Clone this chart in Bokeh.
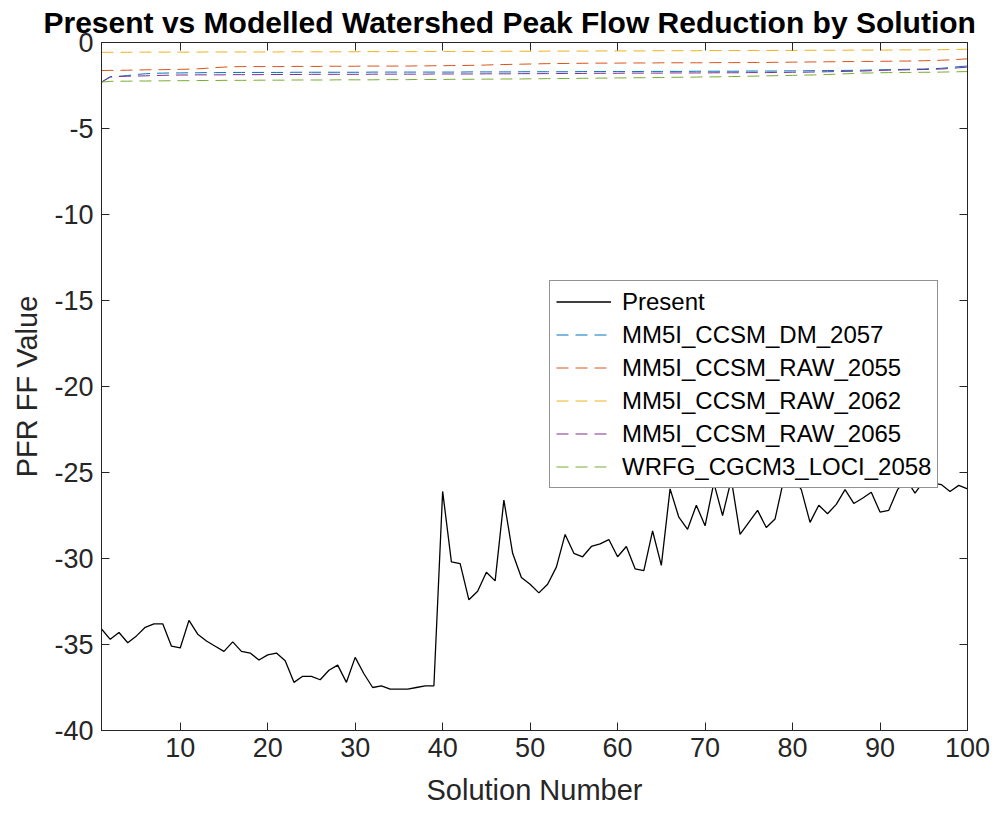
from bokeh.plotting import figure
from bokeh.models import Range1d, LinearAxis, FixedTicker, Legend, LegendItem
from bokeh.embed import file_html
from bokeh.resources import INLINE

solution = list(range(1, 101))

present = [
    -34.1, -34.7, -34.3, -34.9, -34.5, -34.0, -33.8, -33.8, -35.1, -35.2,
    -33.6, -34.4, -34.8, -35.1, -35.4, -34.85, -35.4, -35.5, -35.9, -35.6,
    -35.5, -35.95, -37.2, -36.85, -36.85, -37.05, -36.5, -36.2, -37.2, -35.75,
    -36.7, -37.5, -37.4, -37.6, -37.6, -37.6, -37.5, -37.4, -37.4, -26.1,
    -30.2, -30.3, -32.4, -31.9, -30.8, -31.3, -26.6, -29.7, -31.1, -31.5,
    -32.0, -31.5, -30.5, -28.6, -29.7, -29.9, -29.3, -29.15, -28.9, -29.9,
    -29.3, -30.6, -30.7, -28.4, -30.4, -25.95, -27.6, -28.3, -26.9, -28.1,
    -25.6, -27.5, -25.4, -28.6, -27.9, -27.2, -28.2, -27.7, -25.4, -25.2,
    -26.0, -27.9, -26.9, -27.4, -26.85, -26.0, -26.8, -26.5, -26.15, -27.3,
    -27.2, -26.0, -25.4, -26.2, -25.5, -25.6, -25.7, -26.1, -25.75, -25.95,
]

dm_2057 = [
    -2.30, -2.02, -1.97, -1.92, -1.86, -1.82, -1.79, -1.78, -1.77, -1.77,
    -1.76, -1.76, -1.75, -1.75, -1.75, -1.74, -1.74, -1.74, -1.74, -1.74,
    -1.74, -1.74, -1.73, -1.73, -1.73, -1.73, -1.73, -1.73, -1.73, -1.73,
    -1.73, -1.72, -1.72, -1.72, -1.72, -1.72, -1.72, -1.72, -1.72, -1.72,
    -1.72, -1.72, -1.71, -1.71, -1.71, -1.71, -1.71, -1.71, -1.70, -1.70,
    -1.70, -1.70, -1.70, -1.70, -1.70, -1.69, -1.69, -1.69, -1.69, -1.69,
    -1.69, -1.69, -1.68, -1.68, -1.68, -1.68, -1.68, -1.68, -1.67, -1.67,
    -1.67, -1.67, -1.67, -1.67, -1.66, -1.66, -1.66, -1.66, -1.65, -1.65,
    -1.65, -1.64, -1.64, -1.63, -1.63, -1.62, -1.62, -1.61, -1.60, -1.59,
    -1.58, -1.57, -1.56, -1.55, -1.54, -1.52, -1.50, -1.46, -1.40, -1.37,
]

raw_2055 = [
    -1.63, -1.62, -1.62, -1.61, -1.60, -1.59, -1.58, -1.58, -1.57, -1.56,
    -1.55, -1.53, -1.50, -1.46, -1.43, -1.41, -1.40, -1.40, -1.40, -1.40,
    -1.40, -1.40, -1.39, -1.39, -1.39, -1.39, -1.38, -1.38, -1.38, -1.38,
    -1.37, -1.37, -1.37, -1.37, -1.37, -1.37, -1.36, -1.36, -1.35, -1.35,
    -1.34, -1.34, -1.33, -1.32, -1.31, -1.29, -1.28, -1.27, -1.26, -1.25,
    -1.24, -1.23, -1.22, -1.22, -1.21, -1.21, -1.20, -1.20, -1.20, -1.20,
    -1.19, -1.19, -1.19, -1.19, -1.18, -1.18, -1.18, -1.18, -1.18, -1.18,
    -1.17, -1.17, -1.17, -1.17, -1.16, -1.16, -1.16, -1.15, -1.15, -1.14,
    -1.14, -1.13, -1.13, -1.12, -1.12, -1.11, -1.11, -1.10, -1.10, -1.09,
    -1.09, -1.08, -1.08, -1.07, -1.06, -1.05, -1.03, -1.01, -0.98, -0.95,
]

raw_2062 = [
    -0.57, -0.57, -0.57, -0.57, -0.56, -0.56, -0.56, -0.56, -0.56, -0.56,
    -0.56, -0.56, -0.55, -0.55, -0.55, -0.55, -0.55, -0.55, -0.55, -0.55,
    -0.55, -0.54, -0.54, -0.54, -0.54, -0.54, -0.54, -0.54, -0.54, -0.54,
    -0.53, -0.53, -0.53, -0.53, -0.53, -0.53, -0.53, -0.52, -0.52, -0.52,
    -0.52, -0.52, -0.52, -0.52, -0.52, -0.51, -0.51, -0.51, -0.51, -0.51,
    -0.51, -0.50, -0.50, -0.50, -0.50, -0.50, -0.50, -0.49, -0.49, -0.49,
    -0.49, -0.49, -0.49, -0.48, -0.48, -0.48, -0.48, -0.48, -0.48, -0.47,
    -0.47, -0.47, -0.47, -0.47, -0.46, -0.46, -0.46, -0.46, -0.46, -0.46,
    -0.45, -0.45, -0.45, -0.45, -0.45, -0.45, -0.44, -0.44, -0.44, -0.44,
    -0.44, -0.43, -0.43, -0.43, -0.43, -0.42, -0.42, -0.41, -0.40, -0.39,
]

raw_2065 = [
    -2.30, -1.98, -1.97, -1.96, -1.95, -1.94, -1.92, -1.91, -1.90, -1.89,
    -1.89, -1.88, -1.88, -1.88, -1.88, -1.87, -1.87, -1.87, -1.87, -1.86,
    -1.86, -1.86, -1.86, -1.86, -1.85, -1.85, -1.85, -1.85, -1.85, -1.85,
    -1.85, -1.84, -1.84, -1.84, -1.84, -1.84, -1.84, -1.84, -1.83, -1.83,
    -1.83, -1.83, -1.83, -1.83, -1.82, -1.82, -1.82, -1.82, -1.81, -1.81,
    -1.81, -1.81, -1.80, -1.80, -1.80, -1.80, -1.79, -1.79, -1.79, -1.79,
    -1.78, -1.78, -1.78, -1.78, -1.78, -1.77, -1.77, -1.77, -1.77, -1.77,
    -1.76, -1.76, -1.76, -1.76, -1.75, -1.75, -1.75, -1.74, -1.74, -1.73,
    -1.73, -1.72, -1.71, -1.70, -1.69, -1.68, -1.67, -1.66, -1.64, -1.62,
    -1.61, -1.60, -1.59, -1.58, -1.57, -1.56, -1.54, -1.51, -1.47, -1.43,
]

loci_2058 = [
    -2.30, -2.26, -2.25, -2.25, -2.24, -2.24, -2.23, -2.23, -2.22, -2.22,
    -2.22, -2.21, -2.21, -2.21, -2.20, -2.20, -2.20, -2.20, -2.19, -2.19,
    -2.19, -2.19, -2.18, -2.18, -2.18, -2.18, -2.18, -2.17, -2.17, -2.17,
    -2.17, -2.17, -2.16, -2.16, -2.16, -2.16, -2.15, -2.15, -2.15, -2.15,
    -2.14, -2.14, -2.14, -2.13, -2.13, -2.13, -2.12, -2.12, -2.12, -2.11,
    -2.11, -2.10, -2.10, -2.09, -2.09, -2.08, -2.08, -2.07, -2.07, -2.06,
    -2.06, -2.05, -2.05, -2.04, -2.04, -2.03, -2.02, -2.02, -2.01, -2.00,
    -2.00, -1.99, -1.98, -1.97, -1.96, -1.95, -1.94, -1.93, -1.92, -1.91,
    -1.90, -1.89, -1.88, -1.86, -1.84, -1.82, -1.80, -1.78, -1.77, -1.76,
    -1.75, -1.75, -1.74, -1.74, -1.73, -1.73, -1.72, -1.71, -1.70, -1.69,
]

series_names = ["MM5I_CCSM_DM_2057", "MM5I_CCSM_RAW_2055", "MM5I_CCSM_RAW_2062",
                "MM5I_CCSM_RAW_2065", "WRFG_CGCM3_LOCI_2058"]
series_values = [dm_2057, raw_2055, raw_2062, raw_2065, loci_2058]
series_colors = ["#0072BD", "#D95319", "#EDB120", "#7E2F8E", "#77AC30"]

x_ticks = [10, 20, 30, 40, 50, 60, 70, 80, 90, 100]
y_ticks = [-40, -35, -30, -25, -20, -15, -10, -5, 0]
y_tick_labels = ["-40", "-35", "-30", "-25", "-20", "-15", "-10", "-5", "0"]

FONT = "Liberation Sans"
AX = "#262626"

p = figure(width=995, height=813, output_backend="svg", toolbar_location=None,
           x_range=Range1d(1, 100), y_range=Range1d(-40, 0),
           min_border_left=101, min_border_right=28, min_border_top=42,
           min_border_bottom=83)
p.background_fill_color = "white"
p.border_fill_color = "white"
p.outline_line_color = AX
p.outline_line_width = 1
p.grid.visible = False

p.title.text = "Present vs Modelled Watershed Peak Flow Reduction by Solution"
p.title.text_font = FONT
p.title.text_font_size = "30px"
p.title.text_font_style = "bold"
p.title.text_color = "black"
p.title.align = "left"
p.title.offset = -58
p.title.standoff = 7

for ax in (p.xaxis[0], p.yaxis[0]):
    ax.axis_line_color = AX
    ax.major_tick_line_color = AX
    ax.major_tick_in = 8
    ax.major_tick_out = 0
    ax.minor_tick_line_color = None
    ax.major_label_text_font = FONT
    ax.major_label_text_font_size = "27px"
    ax.major_label_text_color = AX
    ax.axis_label_text_font = FONT
    ax.axis_label_text_font_size = "29px"
    ax.axis_label_text_font_style = "normal"
    ax.axis_label_text_color = AX

p.xaxis[0].ticker = FixedTicker(ticks=x_ticks)
p.yaxis[0].ticker = FixedTicker(ticks=y_ticks)
p.yaxis[0].major_label_overrides = dict(zip(y_ticks, y_tick_labels))
p.xaxis[0].axis_label = "Solution Number"
p.yaxis[0].axis_label = "PFR FF Value"
p.xaxis[0].major_label_standoff = 7
p.yaxis[0].major_label_standoff = 8
p.xaxis[0].axis_label_standoff = 14
p.yaxis[0].axis_label_standoff = 8

top = LinearAxis(ticker=FixedTicker(ticks=x_ticks), major_label_text_font_size="1px",
                 major_label_text_color=None, major_label_standoff=0,
                 axis_line_color=AX, major_tick_line_color=AX, major_tick_in=8,
                 major_tick_out=0, minor_tick_line_color=None)
right = LinearAxis(ticker=FixedTicker(ticks=y_ticks), major_label_text_font_size="1px",
                   major_label_text_color=None, major_label_standoff=0,
                   axis_line_color=AX, major_tick_line_color=AX, major_tick_in=8,
                   major_tick_out=0, minor_tick_line_color=None)
p.add_layout(top, "above")
p.add_layout(right, "right")

items = []
r = p.line(solution, present, line_color="black", line_width=1.3)
items.append(LegendItem(label="Present", renderers=[r]))
for name, vals, col in zip(series_names, series_values, series_colors):
    r = p.line(solution, vals, line_color=col, line_width=1, line_dash="12 7")
    items.append(LegendItem(label=name, renderers=[r]))

legend = Legend(items=items, location=(448, 242))
legend.label_text_font = FONT
legend.label_text_font_size = "24px"
legend.label_text_color = "black"
legend.border_line_color = AX
legend.border_line_width = 1
legend.background_fill_color = "white"
legend.background_fill_alpha = 1
legend.glyph_width = 55
legend.glyph_height = 29
legend.label_height = 29
legend.label_standoff = 11
legend.spacing = 4
legend.padding = 6
legend.margin = 0
p.add_layout(legend, "center")

open("out.html", "w").write(file_html(p, INLINE))
